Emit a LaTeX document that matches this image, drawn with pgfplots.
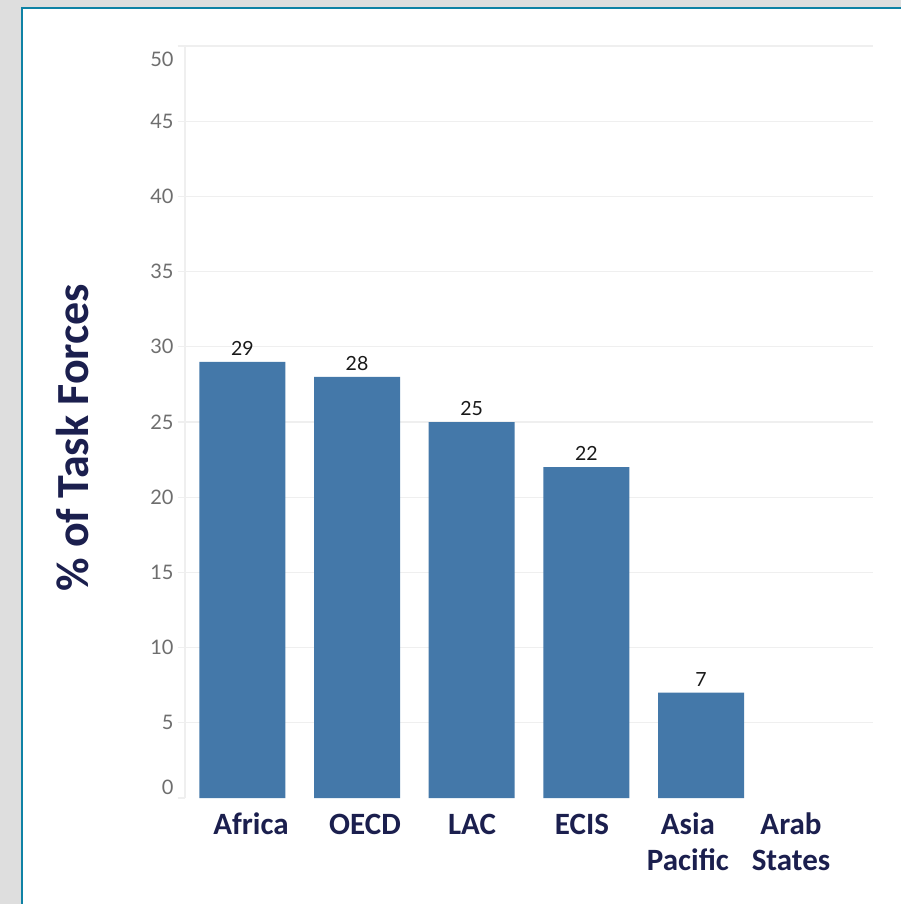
\documentclass[border=0pt]{standalone}
\usepackage{fontspec}
\setmainfont{Carlito}
\newfontfamily\tabfont{Lato}
\usepackage{pgfplots}
\pgfplotsset{compat=1.18}
\definecolor{bgray}{HTML}{DEDEDE}
\definecolor{framec}{HTML}{0F82A5}
\definecolor{barblue}{HTML}{4478A9}
\definecolor{navy}{HTML}{1B1F4E}
\definecolor{gridc}{HTML}{EFEFEF}
\definecolor{tickc}{HTML}{6E6E6E}
\begin{document}
\begin{tikzpicture}[x=1pt,y=1pt]
\clip (0,0) rectangle (901,-904);
\fill[bgray] (0,0) rectangle (901,-904);
\filldraw[fill=white, draw=framec, line width=2.6pt] (22,-8) rectangle (950,-950);
\begin{axis}[
  at={(185pt,-798pt)}, anchor=south west,
  scale only axis, width=688pt, height=752pt,
  xmin=-0.5, xmax=5.5, ymin=0, ymax=50,
  enlargelimits=false,
  axis lines*=left,
  x axis line style={draw=none},
  y axis line style={draw=gridc, line width=1.2pt},
  axis line style={-},
  ytick={5,10,...,50},
  extra y ticks={0},
  extra y tick style={grid=none},
  ymajorgrids,
  grid style={gridc, line width=1.2pt},
  major tick length=7pt,
  tick align=outside,
  ytick style={draw=gridc, line width=1.2pt},
  xtick style={draw=none},
  xtick={0.0756,1.070,2.003,2.962,3.886,4.785},
  xticklabels={\strut Africa,\strut OECD,\strut LAC,\strut ECIS,{\strut Asia\\Pacific},{\strut Arab\\States}},
  xticklabel style={font=\fontsize{31}{36}\selectfont\bfseries, text=navy, align=center, anchor=north, yshift=-0.5pt},
  /pgf/number format/assume math mode=true,
  yticklabel style={font=\tabfont\fontsize{20}{22}\selectfont, text=tickc, xshift=-1pt, yshift={(\tick<1)*11pt-(\tick>49)*13pt}},
  ylabel={\% of Task Forces},
  ylabel style={font=\fontsize{46}{50}\selectfont\bfseries, text=navy, at={(axis description cs:-0.163,0.479)}, anchor=center, rotate=0},
  nodes near coords,
  every node near coord/.append style={font=\tabfont\fontsize{19.5}{22}\selectfont, text=black!90, anchor=south, yshift=3pt},
]
\addplot[ybar, bar width=0.75, fill=barblue, draw=none] coordinates {(0,29) (1,28) (2,25) (3,22) (4,7)};
\end{axis}
\end{tikzpicture}
\end{document}
